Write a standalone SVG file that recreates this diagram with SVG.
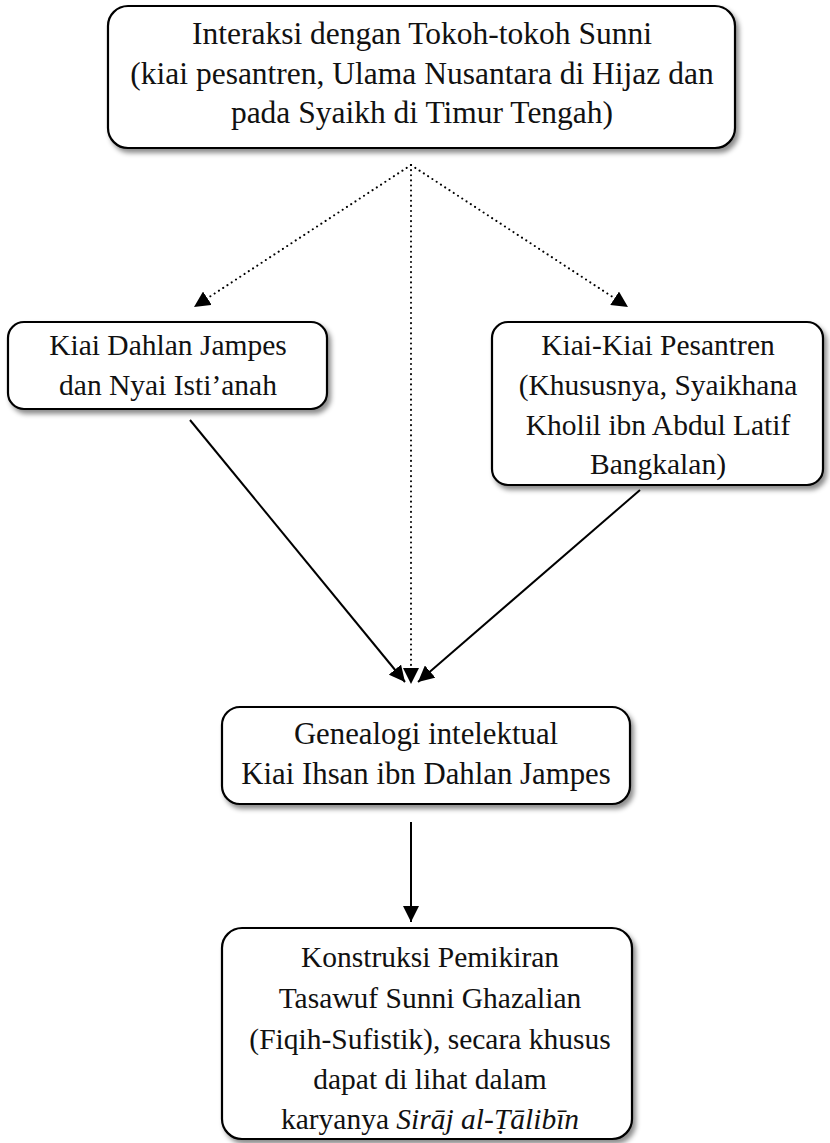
<svg xmlns="http://www.w3.org/2000/svg" width="830" height="1143" viewBox="0 0 830 1143">
<style>
.box{fill:#fff;stroke:#000;stroke-width:2.2;filter:url(#sh)}
.t{font-family:"Liberation Serif","Times New Roman",serif;font-size:29.5px;fill:#111;text-anchor:middle}
.big{font-size:31.5px}
.mid{font-size:30.8px}
.sol{stroke:#000;stroke-width:2;fill:none}
.dot{stroke:#000;stroke-width:2;fill:none;stroke-dasharray:0.1 5;stroke-linecap:round}
</style>
<defs>
<filter id="sh" x="-10%" y="-10%" width="130%" height="140%">
<feDropShadow dx="3" dy="4" stdDeviation="2.5" flood-color="#000" flood-opacity="0.45"/>
</filter>
<marker id="ah" viewBox="0 0 10 10" refX="10" refY="5" markerWidth="16" markerHeight="16" markerUnits="userSpaceOnUse" orient="auto">
<path d="M0,0 L10,5 L0,10 z" fill="#000"/>
</marker>
</defs>
<g id="connectors">
<line class="dot" x1="411" y1="165" x2="194" y2="307" marker-end="url(#ah)"/>
<line class="dot" x1="411" y1="165" x2="628" y2="307" marker-end="url(#ah)"/>
<line class="dot" x1="411" y1="165" x2="411" y2="684" marker-end="url(#ah)"/>
<line class="sol" x1="190" y1="420" x2="405" y2="682" marker-end="url(#ah)"/>
<line class="sol" x1="640" y1="490" x2="418" y2="682" marker-end="url(#ah)"/>
<line class="sol" x1="411" y1="822" x2="411" y2="922" marker-end="url(#ah)"/>
</g>
<g id="n1">
<rect class="box" x="108" y="6" width="627" height="142" rx="20"/>
<text class="t big" x="422" y="44">Interaksi dengan Tokoh-tokoh Sunni</text>
<text class="t big" x="422" y="84">(kiai pesantren, Ulama Nusantara di Hijaz dan</text>
<text class="t big" x="422" y="123">pada Syaikh di Timur Tengah)</text>
</g>
<g id="n2">
<rect class="box" x="8" y="322" width="319" height="87" rx="16"/>
<text class="t" x="168" y="355">Kiai Dahlan Jampes</text>
<text class="t" x="168" y="395">dan Nyai Isti’anah</text>
</g>
<g id="n3">
<rect class="box" x="492" y="322" width="331" height="163" rx="16"/>
<text class="t" x="658" y="355">Kiai-Kiai Pesantren</text>
<text class="t" x="658" y="395">(Khususnya, Syaikhana</text>
<text class="t" x="658" y="435">Kholil ibn Abdul Latif</text>
<text class="t" x="658" y="474">Bangkalan)</text>
</g>
<g id="n4">
<rect class="box" x="222" y="707" width="408" height="97" rx="18"/>
<text class="t mid" x="426" y="744">Genealogi intelektual</text>
<text class="t mid" x="426" y="784">Kiai Ihsan ibn Dahlan Jampes</text>
</g>
<g id="n5">
<rect class="box" x="222" y="928" width="410" height="211" rx="20"/>
<text class="t" x="430" y="967">Konstruksi Pemikiran</text>
<text class="t" x="430" y="1008">Tasawuf Sunni Ghazalian</text>
<text class="t" x="430" y="1049">(Fiqih-Sufistik), secara khusus</text>
<text class="t" x="430" y="1089">dapat di lihat dalam</text>
<text class="t" x="430" y="1129">karyanya <tspan font-style="italic">Sirāj al-Ṭālibīn</tspan></text>
</g>
</svg>
